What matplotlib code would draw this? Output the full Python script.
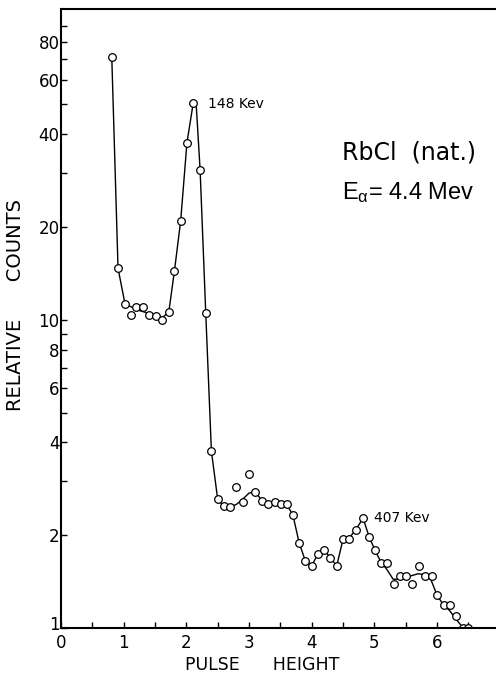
import numpy as np
import matplotlib
matplotlib.use('Agg')
import matplotlib.pyplot as plt
from matplotlib.ticker import FixedLocator, FixedFormatter, MultipleLocator
from matplotlib.transforms import ScaledTranslation

# measured points (pulse height, relative counts)
pulse = [0.81, 0.91, 1.02, 1.11, 1.20, 1.31, 1.41, 1.52, 1.61, 1.72,
         1.81, 1.91, 2.01, 2.11, 2.22, 2.31, 2.40, 2.50, 2.60, 2.70,
         2.80, 2.91, 3.00, 3.10, 3.20, 3.31, 3.41, 3.51, 3.60, 3.70,
         3.80, 3.90, 4.00, 4.10, 4.20, 4.30, 4.40, 4.50, 4.60, 4.70,
         4.82, 4.92, 5.01, 5.11, 5.20, 5.31, 5.41, 5.51, 5.60, 5.71,
         5.81, 5.92, 6.00, 6.11, 6.21, 6.31, 6.41, 6.50]
counts = [71.4, 14.7, 11.3, 10.4, 11.0, 11.0, 10.4, 10.3, 10.0, 10.6,
          14.4, 21.0, 37.6, 50.5, 30.6, 10.5, 3.75, 2.62, 2.48, 2.47,
          2.86, 2.57, 3.16, 2.77, 2.58, 2.52, 2.56, 2.52, 2.52, 2.33,
          1.89, 1.65, 1.59, 1.74, 1.79, 1.69, 1.59, 1.94, 1.94, 2.08,
          2.27, 1.97, 1.79, 1.63, 1.63, 1.39, 1.48, 1.48, 1.39, 1.59,
          1.48, 1.48, 1.28, 1.185, 1.185, 1.09, 1.0, 1.0]

# hand drawn smooth curve through the points
curve_x = [0.81, 0.91, 1.02, 1.2, 1.4, 1.6, 1.72, 1.81, 1.91, 2.01,
           2.11, 2.16, 2.22, 2.31, 2.40, 2.50, 2.60, 2.70, 2.80, 2.90,
           3.00, 3.10, 3.20, 3.30, 3.40, 3.50, 3.60, 3.70, 3.80, 3.90,
           4.00, 4.10, 4.20, 4.30, 4.40, 4.50, 4.60, 4.70, 4.82, 4.92,
           5.01, 5.11, 5.20, 5.30, 5.40, 5.50, 5.60, 5.70, 5.80, 5.90,
           6.00, 6.10, 6.20, 6.30, 6.42]
curve_y = [71.4, 14.7, 11.3, 10.8, 10.5, 10.1, 10.6, 14.4, 21.0, 37.6,
           50.5, 49.0, 30.6, 10.5, 3.75, 2.62, 2.48, 2.47, 2.52, 2.62,
           2.74, 2.77, 2.60, 2.54, 2.55, 2.53, 2.52, 2.33, 1.89, 1.65,
           1.59, 1.74, 1.79, 1.69, 1.59, 1.94, 1.96, 2.08, 2.27, 1.97,
           1.79, 1.63, 1.55, 1.44, 1.44, 1.46, 1.48, 1.50, 1.49, 1.44,
           1.28, 1.19, 1.14, 1.07, 1.0]

ytick_vals = [1, 2, 4, 6, 8, 10, 20, 40, 60, 80]
ytick_labels = ['1', '2', '4', '6', '8', '10', '20', '40', '60', '80']
xtick_vals = [0, 1, 2, 3, 4, 5, 6, 7]
xtick_labels = ['0', '1', '2', '3', '4', '5', '6', '7']

plt.rcParams['mathtext.fontset'] = 'custom'
plt.rcParams['mathtext.rm'] = 'Liberation Sans'
plt.rcParams['mathtext.it'] = 'Liberation Sans:italic'

fig = plt.figure(figsize=(4.96, 6.75), dpi=100)
ax = fig.add_axes([0.123, 0.0696, 0.897, 0.917])

ax.plot(curve_x, curve_y, color='black', lw=1.0)
ax.plot(pulse, counts, 'o', ms=5.5, mfc='white', mec='black', mew=0.9)

ax.set_yscale('log')
ax.set_ylim(1, 102)
ax.set_xlim(0, 7.1)

ax.yaxis.set_major_locator(FixedLocator(ytick_vals))
ax.yaxis.set_major_formatter(FixedFormatter(ytick_labels))
minor = [3, 5, 7, 9, 30, 50, 70, 90]
ax.yaxis.set_minor_locator(FixedLocator(minor))
ax.yaxis.set_minor_formatter(FixedFormatter([''] * len(minor)))

ax.xaxis.set_major_locator(FixedLocator(xtick_vals))
ax.xaxis.set_major_formatter(FixedFormatter(xtick_labels))
ax.xaxis.set_minor_locator(MultipleLocator(0.5))

ax.tick_params(which='both', direction='in', length=4, width=1, labelsize=12, pad=4)
ax.tick_params(axis='y', pad=1)

# the "1" label sits a little above the corner in the original
fig.canvas.draw()
lab1 = ax.get_yticklabels()[0]
lab1.set_transform(lab1.get_transform() + ScaledTranslation(0, 5 / 100.0, fig.dpi_scale_trans))

for s in ['left', 'bottom', 'top']:
    ax.spines[s].set_linewidth(1.5)
ax.spines['right'].set_visible(False)

ax.set_xlabel('PULSE      HEIGHT', fontsize=12.5)
ax.xaxis.set_label_coords((262 - 61) / 445.0, -0.045)
ax.set_ylabel('RELATIVE      COUNTS', fontsize=14)
ax.yaxis.set_label_coords(-(61 - 25) / 445.0, 0.5 + (329 - 315) / 619.0)

ax.text(2.35, 50, '148 Kev', fontsize=10, va='center')
ax.text(5.0, 2.27, '407 Kev', fontsize=10, va='center')
ax.text(4.48, 35, 'RbCl  (nat.)', fontsize=17, va='center')
ax.text(4.48, 25.8, r'$\mathregular{E_{\alpha}}$= 4.4 Mev', fontsize=17,
        va='center', family='Liberation Sans')

fig.savefig('out.png', dpi=100)
